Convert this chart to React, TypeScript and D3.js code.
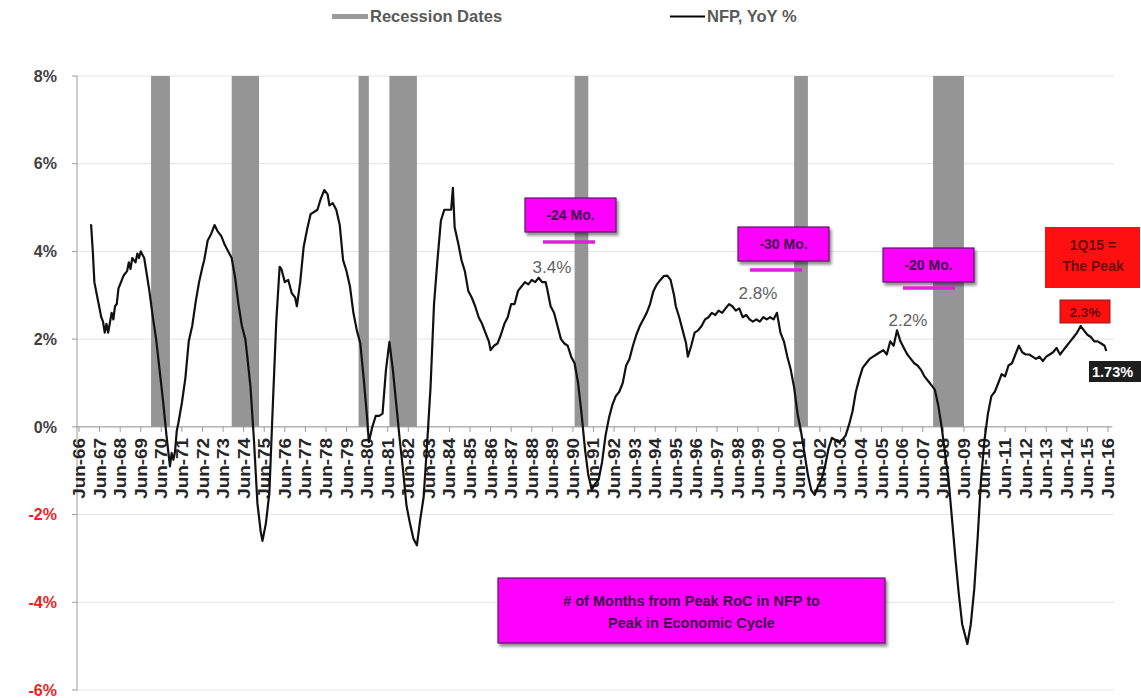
import React from "react";
import * as d3 from "d3";

const WIDTH = 1141;
const HEIGHT = 698;
const FONT = "'Liberation Sans', Arial, sans-serif";

// Nonfarm payrolls, year-over-year % change
const nfpYoY: [string, number][] = [
  ["1967-01", 4.62], ["1967-02", 4.0], ["1967-03", 3.3], ["1967-05", 2.9], ["1967-07", 2.5], ["1967-08", 2.4],
  ["1967-09", 2.15], ["1967-10", 2.35], ["1967-11", 2.15], ["1968-01", 2.6], ["1968-02", 2.45], ["1968-03", 2.75],
  ["1968-04", 2.8], ["1968-05", 3.15], ["1968-07", 3.35], ["1968-08", 3.45], ["1968-10", 3.55], ["1968-11", 3.75],
  ["1968-12", 3.6], ["1969-01", 3.85], ["1969-03", 3.75], ["1969-04", 3.95], ["1969-05", 3.85], ["1969-06", 4.0],
  ["1969-08", 3.85], ["1969-09", 3.6], ["1969-11", 3.1], ["1970-01", 2.5], ["1970-03", 2.0], ["1970-05", 1.3],
  ["1970-07", 0.6], ["1970-09", -0.2], ["1970-11", -0.9], ["1970-12", -0.6], ["1971-01", -0.75], ["1971-02", -0.55],
  ["1971-03", -0.1], ["1971-04", 0.1], ["1971-06", 0.55], ["1971-08", 1.1], ["1971-10", 1.95], ["1971-12", 2.3],
  ["1972-02", 2.85], ["1972-04", 3.3], ["1972-06", 3.65], ["1972-07", 3.8], ["1972-09", 4.25], ["1972-11", 4.4],
  ["1973-01", 4.6], ["1973-03", 4.45], ["1973-05", 4.35], ["1973-07", 4.15], ["1973-09", 4.0], ["1973-11", 3.85],
  ["1974-01", 3.4], ["1974-03", 2.8], ["1974-05", 2.3], ["1974-07", 2.0], ["1974-08", 1.65], ["1974-10", 0.9],
  ["1974-12", -0.3], ["1975-02", -1.75], ["1975-04", -2.4], ["1975-05", -2.6], ["1975-07", -2.2], ["1975-09", -1.5],
  ["1975-11", 0.5], ["1976-01", 2.4], ["1976-03", 3.65], ["1976-04", 3.6], ["1976-06", 3.3], ["1976-08", 3.35],
  ["1976-10", 3.05], ["1976-12", 2.95], ["1977-01", 2.75], ["1977-03", 3.3], ["1977-05", 4.1], ["1977-07", 4.5],
  ["1977-09", 4.85], ["1977-11", 4.9], ["1978-01", 4.95], ["1978-03", 5.2], ["1978-05", 5.4], ["1978-07", 5.3],
  ["1978-08", 5.05], ["1978-10", 5.1], ["1978-12", 4.95], ["1979-02", 4.6], ["1979-04", 3.8], ["1979-06", 3.55],
  ["1979-08", 3.2], ["1979-10", 2.6], ["1979-12", 2.2], ["1980-02", 1.9], ["1980-04", 1.1], ["1980-06", 0.2],
  ["1980-07", -0.35], ["1980-09", 0.0], ["1980-11", 0.25], ["1981-01", 0.25], ["1981-03", 0.3], ["1981-05", 1.3],
  ["1981-07", 1.94], ["1981-09", 1.3], ["1981-11", 0.5], ["1982-01", -0.3], ["1982-03", -1.0], ["1982-05", -1.8],
  ["1982-07", -2.2], ["1982-09", -2.55], ["1982-11", -2.7], ["1983-01", -2.1], ["1983-03", -1.6], ["1983-05", -0.4],
  ["1983-07", 0.9], ["1983-09", 2.8], ["1983-11", 3.8], ["1984-01", 4.7], ["1984-03", 4.95], ["1984-05", 4.95],
  ["1984-07", 4.95], ["1984-08", 5.45], ["1984-09", 4.55], ["1984-11", 4.2], ["1985-01", 3.8], ["1985-03", 3.55],
  ["1985-05", 3.1], ["1985-07", 2.95], ["1985-09", 2.75], ["1985-11", 2.5], ["1986-01", 2.35], ["1986-03", 2.15],
  ["1986-05", 1.95], ["1986-06", 1.75], ["1986-08", 1.85], ["1986-10", 1.9], ["1986-12", 2.1], ["1987-02", 2.35],
  ["1987-04", 2.5], ["1987-06", 2.8], ["1987-08", 2.8], ["1987-10", 3.1], ["1987-12", 3.2], ["1988-02", 3.3],
  ["1988-04", 3.25], ["1988-06", 3.35], ["1988-08", 3.3], ["1988-10", 3.4], ["1988-12", 3.3], ["1989-02", 3.3],
  ["1989-03", 3.15], ["1989-05", 2.75], ["1989-07", 2.6], ["1989-09", 2.3], ["1989-11", 2.0], ["1990-01", 1.9],
  ["1990-03", 1.85], ["1990-05", 1.6], ["1990-07", 1.45], ["1990-09", 1.0], ["1990-11", 0.3], ["1991-01", -0.5],
  ["1991-03", -1.1], ["1991-05", -1.43], ["1991-07", -1.3], ["1991-09", -1.2], ["1991-11", -0.8], ["1992-01", -0.2],
  ["1992-03", 0.2], ["1992-05", 0.5], ["1992-07", 0.7], ["1992-09", 0.8], ["1992-11", 1.0], ["1993-01", 1.4],
  ["1993-03", 1.55], ["1993-05", 1.85], ["1993-07", 2.1], ["1993-09", 2.3], ["1993-11", 2.45], ["1994-01", 2.6],
  ["1994-03", 2.8], ["1994-05", 3.1], ["1994-07", 3.25], ["1994-09", 3.35], ["1994-11", 3.44], ["1995-01", 3.45],
  ["1995-03", 3.35], ["1995-05", 3.0], ["1995-06", 2.75], ["1995-08", 2.5], ["1995-10", 2.2], ["1995-12", 1.9],
  ["1996-01", 1.6], ["1996-03", 1.85], ["1996-05", 2.15], ["1996-07", 2.2], ["1996-09", 2.3], ["1996-11", 2.45],
  ["1997-01", 2.5], ["1997-03", 2.6], ["1997-05", 2.55], ["1997-07", 2.65], ["1997-09", 2.6], ["1997-11", 2.7],
  ["1998-01", 2.8], ["1998-03", 2.75], ["1998-05", 2.65], ["1998-07", 2.7], ["1998-09", 2.5], ["1998-11", 2.55],
  ["1999-01", 2.45], ["1999-03", 2.4], ["1999-05", 2.45], ["1999-07", 2.4], ["1999-09", 2.5], ["1999-11", 2.45],
  ["2000-01", 2.5], ["2000-03", 2.45], ["2000-05", 2.6], ["2000-07", 2.15], ["2000-09", 1.95], ["2000-11", 1.6],
  ["2001-01", 1.3], ["2001-03", 0.9], ["2001-05", 0.3], ["2001-07", -0.1], ["2001-09", -0.6], ["2001-11", -1.1],
  ["2002-01", -1.45], ["2002-03", -1.55], ["2002-05", -1.35], ["2002-07", -1.2], ["2002-09", -0.9], ["2002-11", -0.5],
  ["2003-01", -0.25], ["2003-03", -0.3], ["2003-05", -0.35], ["2003-07", -0.3], ["2003-09", -0.2], ["2003-11", 0.05],
  ["2004-01", 0.35], ["2004-03", 0.8], ["2004-05", 1.1], ["2004-07", 1.35], ["2004-09", 1.45], ["2004-11", 1.55],
  ["2005-01", 1.6], ["2005-03", 1.65], ["2005-05", 1.7], ["2005-07", 1.75], ["2005-09", 1.65], ["2005-11", 1.95],
  ["2006-01", 1.85], ["2006-03", 2.2], ["2006-05", 1.95], ["2006-07", 1.8], ["2006-09", 1.65], ["2006-11", 1.55],
  ["2007-01", 1.45], ["2007-03", 1.4], ["2007-05", 1.3], ["2007-07", 1.15], ["2007-09", 1.05], ["2007-11", 0.95],
  ["2008-01", 0.85], ["2008-03", 0.5], ["2008-05", 0.0], ["2008-07", -0.6], ["2008-09", -1.2], ["2008-11", -2.1],
  ["2009-01", -3.0], ["2009-03", -3.8], ["2009-05", -4.5], ["2009-07", -4.8], ["2009-08", -4.95], ["2009-10", -4.5],
  ["2009-12", -3.7], ["2010-02", -2.5], ["2010-04", -1.2], ["2010-06", -0.3], ["2010-08", 0.3], ["2010-10", 0.7],
  ["2010-12", 0.8], ["2011-02", 1.0], ["2011-04", 1.2], ["2011-06", 1.15], ["2011-08", 1.4], ["2011-10", 1.45],
  ["2011-12", 1.65], ["2012-02", 1.85], ["2012-04", 1.7], ["2012-06", 1.65], ["2012-08", 1.65], ["2012-10", 1.6],
  ["2012-12", 1.55], ["2013-02", 1.6], ["2013-04", 1.5], ["2013-06", 1.6], ["2013-08", 1.65], ["2013-10", 1.7],
  ["2013-12", 1.8], ["2014-02", 1.65], ["2014-04", 1.75], ["2014-06", 1.85], ["2014-08", 1.95], ["2014-10", 2.05],
  ["2014-12", 2.15], ["2015-02", 2.3], ["2015-04", 2.2], ["2015-06", 2.1], ["2015-08", 2.05], ["2015-10", 1.95],
  ["2015-12", 1.95], ["2016-02", 1.9], ["2016-04", 1.85], ["2016-05", 1.73],
];

// NBER recession start / end months
const recessions: [string, string][] = [
  ["1969-12", "1970-11"], ["1973-11", "1975-03"], ["1980-01", "1980-07"], ["1981-07", "1982-11"],
  ["1990-07", "1991-03"], ["2001-03", "2001-11"], ["2007-12", "2009-06"],
];

const yTicks = [8, 6, 4, 2, 0, -2, -4, -6];
const firstTickYear = 1966;
const lastTickYear = 2016;

// Lead of the payroll growth peak over each cycle peak
const cycleLeads = ["-24 Mo.", "-30 Mo.", "-20 Mo."];
const cyclePeakValues = [3.4, 2.8, 2.2];
const currentPeakValue = 2.3;
const latestValue = 1.73;

const parseMonth = d3.timeParse("%Y-%m");
const fmtTick = d3.timeFormat("%b-%y");

// where each lead call-out sits on the page
const leadLayout = [
  { boxX: 525, boxY: 198, ulX: 543, ulY: 242, lblX: 552, lblDy: -5 },
  { boxX: 738, boxY: 227, ulX: 750, ulY: 270, lblX: 758, lblDy: -5 },
  { boxX: 883, boxY: 248, ulX: 903, ulY: 288, lblX: 908, lblDy: -4 },
];

export default function App() {
  const x = d3
    .scaleTime()
    .domain([new Date(firstTickYear, 5, 1), new Date(lastTickYear, 5, 1)])
    .range([79, 1108]);
  const y = d3.scaleLinear().domain([-6, 8]).range([690, 76]);

  const series = nfpYoY.map(([d, v]) => ({ date: parseMonth(d) as Date, v }));
  const line = d3
    .line<{ date: Date; v: number }>()
    .x((d) => x(d.date))
    .y((d) => y(d.v));

  const ticks = d3.range(firstTickYear, lastTickYear + 1).map((yr) => new Date(yr, 5, 1));

  const magenta = "#ff00ff";
  const boxText = "#3c0a48";
  const darkRed = "#6e0808";

  return (
    <svg
      width={WIDTH}
      height={HEIGHT}
      style={{ position: "absolute", left: 0, top: 0, background: "#fff", fontFamily: FONT }}
    >
      <defs>
        <filter id="shadow" x="-10%" y="-20%" width="130%" height="160%">
          <feDropShadow dx="2" dy="3" stdDeviation="1.8" floodColor="#000" floodOpacity="0.45" />
        </filter>
      </defs>

      {/* legend */}
      <rect x={332} y={14} width={36} height={5} fill="#9a9a9a" />
      <text x={370} y={22} fontSize={16.5} fontWeight="bold" fill="#595959">Recession Dates</text>
      <line x1={670} x2={705} y1={16.5} y2={16.5} stroke="#000" strokeWidth={2} />
      <text x={707} y={22} fontSize={16.5} fontWeight="bold" fill="#595959">NFP, YoY %</text>

      {/* gridlines */}
      {yTicks.map((t) => (
        <line key={t} x1={77} x2={1114} y1={y(t)} y2={y(t)} stroke="#e3e3e3" strokeWidth={1} />
      ))}

      {/* recession shading */}
      {recessions.map(([s, e]) => {
        const x0 = x(parseMonth(s) as Date);
        const x1 = x(parseMonth(e) as Date);
        return <rect key={s} x={x0} y={y(8)} width={x1 - x0} height={y(0) - y(8)} fill="#959595" />;
      })}

      {/* y axis */}
      <line x1={77} x2={77} y1={y(8)} y2={y(-6)} stroke="#9a9a9a" strokeWidth={1} />
      {yTicks.map((t) => (
        <g key={t}>
          <line x1={72} x2={77} y1={y(t)} y2={y(t)} stroke="#9a9a9a" />
          <text
            x={57}
            y={y(t)}
            dy="0.36em"
            textAnchor="end"
            fontSize={16}
            fontWeight="bold"
            fill={t < 0 ? "#f01e1e" : "#404040"}
          >
            {t}%
          </text>
        </g>
      ))}

      {/* x axis at zero */}
      <line x1={77} x2={x(ticks[ticks.length - 1]) + 4} y1={y(0)} y2={y(0)} stroke="#9a9a9a" strokeWidth={1} />
      {ticks.map((d) => (
        <g key={d.getFullYear()}>
          <line x1={x(d)} x2={x(d)} y1={y(0)} y2={y(0) + 5} stroke="#9a9a9a" />
          <text
            transform={`translate(${x(d) + 6},${y(0) + 11}) rotate(-90)`}
            textAnchor="end"
            fontSize={16}
            fontWeight="bold"
            fill="#262626"
            textLength={61}
            lengthAdjust="spacingAndGlyphs"
          >
            {fmtTick(d)}
          </text>
        </g>
      ))}

      {/* payrolls line */}
      <path d={line(series) || ""} fill="none" stroke="#111" strokeWidth={2.2} strokeLinejoin="round" />

      {/* cycle-peak lead annotations */}
      {cycleLeads.map((lead, i) => {
        const L = leadLayout[i];
        return (
          <g key={lead}>
            <rect
              x={L.boxX}
              y={L.boxY}
              width={91}
              height={34}
              fill={magenta}
              stroke="#5a1a66"
              strokeWidth={1.2}
              filter="url(#shadow)"
            />
            <text x={L.boxX + 45.5} y={L.boxY + 22} textAnchor="middle" fontSize={14} fontWeight="bold" fill={boxText}>
              {lead}
            </text>
            <line x1={L.ulX} x2={L.ulX + 52} y1={L.ulY} y2={L.ulY} stroke="#e01ee0" strokeWidth={3.5} />
            <text x={L.lblX} y={y(cyclePeakValues[i]) + L.lblDy} textAnchor="middle" fontSize={17} fill="#5f5f5f">
              {cyclePeakValues[i].toFixed(1)}%
            </text>
          </g>
        );
      })}

      {/* current cycle */}
      <g>
        <rect x={1045} y={227} width={95} height={61} fill="#ff1010" />
        <text x={1093} y={250} textAnchor="middle" fontSize={14} fontWeight="bold" fill={darkRed}>
          1Q15 =
        </text>
        <text x={1093} y={271} textAnchor="middle" fontSize={14} fontWeight="bold" fill={darkRed}>
          The Peak
        </text>
        <rect x={1060} y={300} width={50} height={23} fill="#ff1010" stroke="#8a1a1a" strokeWidth={1} />
        <text x={1085} y={317} textAnchor="middle" fontSize={13.5} fontWeight="bold" fill={darkRed}>
          {currentPeakValue.toFixed(1)}%
        </text>
        <rect x={1089} y={361} width={56} height={21} fill="#1e1e1e" />
        <text x={1092} y={377} fontSize={14.5} fontWeight="bold" fill="#fff">
          {latestValue.toFixed(2)}%
        </text>
      </g>

      {/* explanatory box */}
      <g>
        <rect x={498} y={578} width={387} height={65} fill={magenta} stroke="#5a1a66" strokeWidth={1.2} filter="url(#shadow)" />
        <text x={691.5} y={606} textAnchor="middle" fontSize={14.5} fontWeight="bold" fill={boxText}>
          # of Months from Peak RoC in NFP to
        </text>
        <text x={691.5} y={628} textAnchor="middle" fontSize={14.5} fontWeight="bold" fill={boxText}>
          Peak in Economic Cycle
        </text>
      </g>
    </svg>
  );
}
